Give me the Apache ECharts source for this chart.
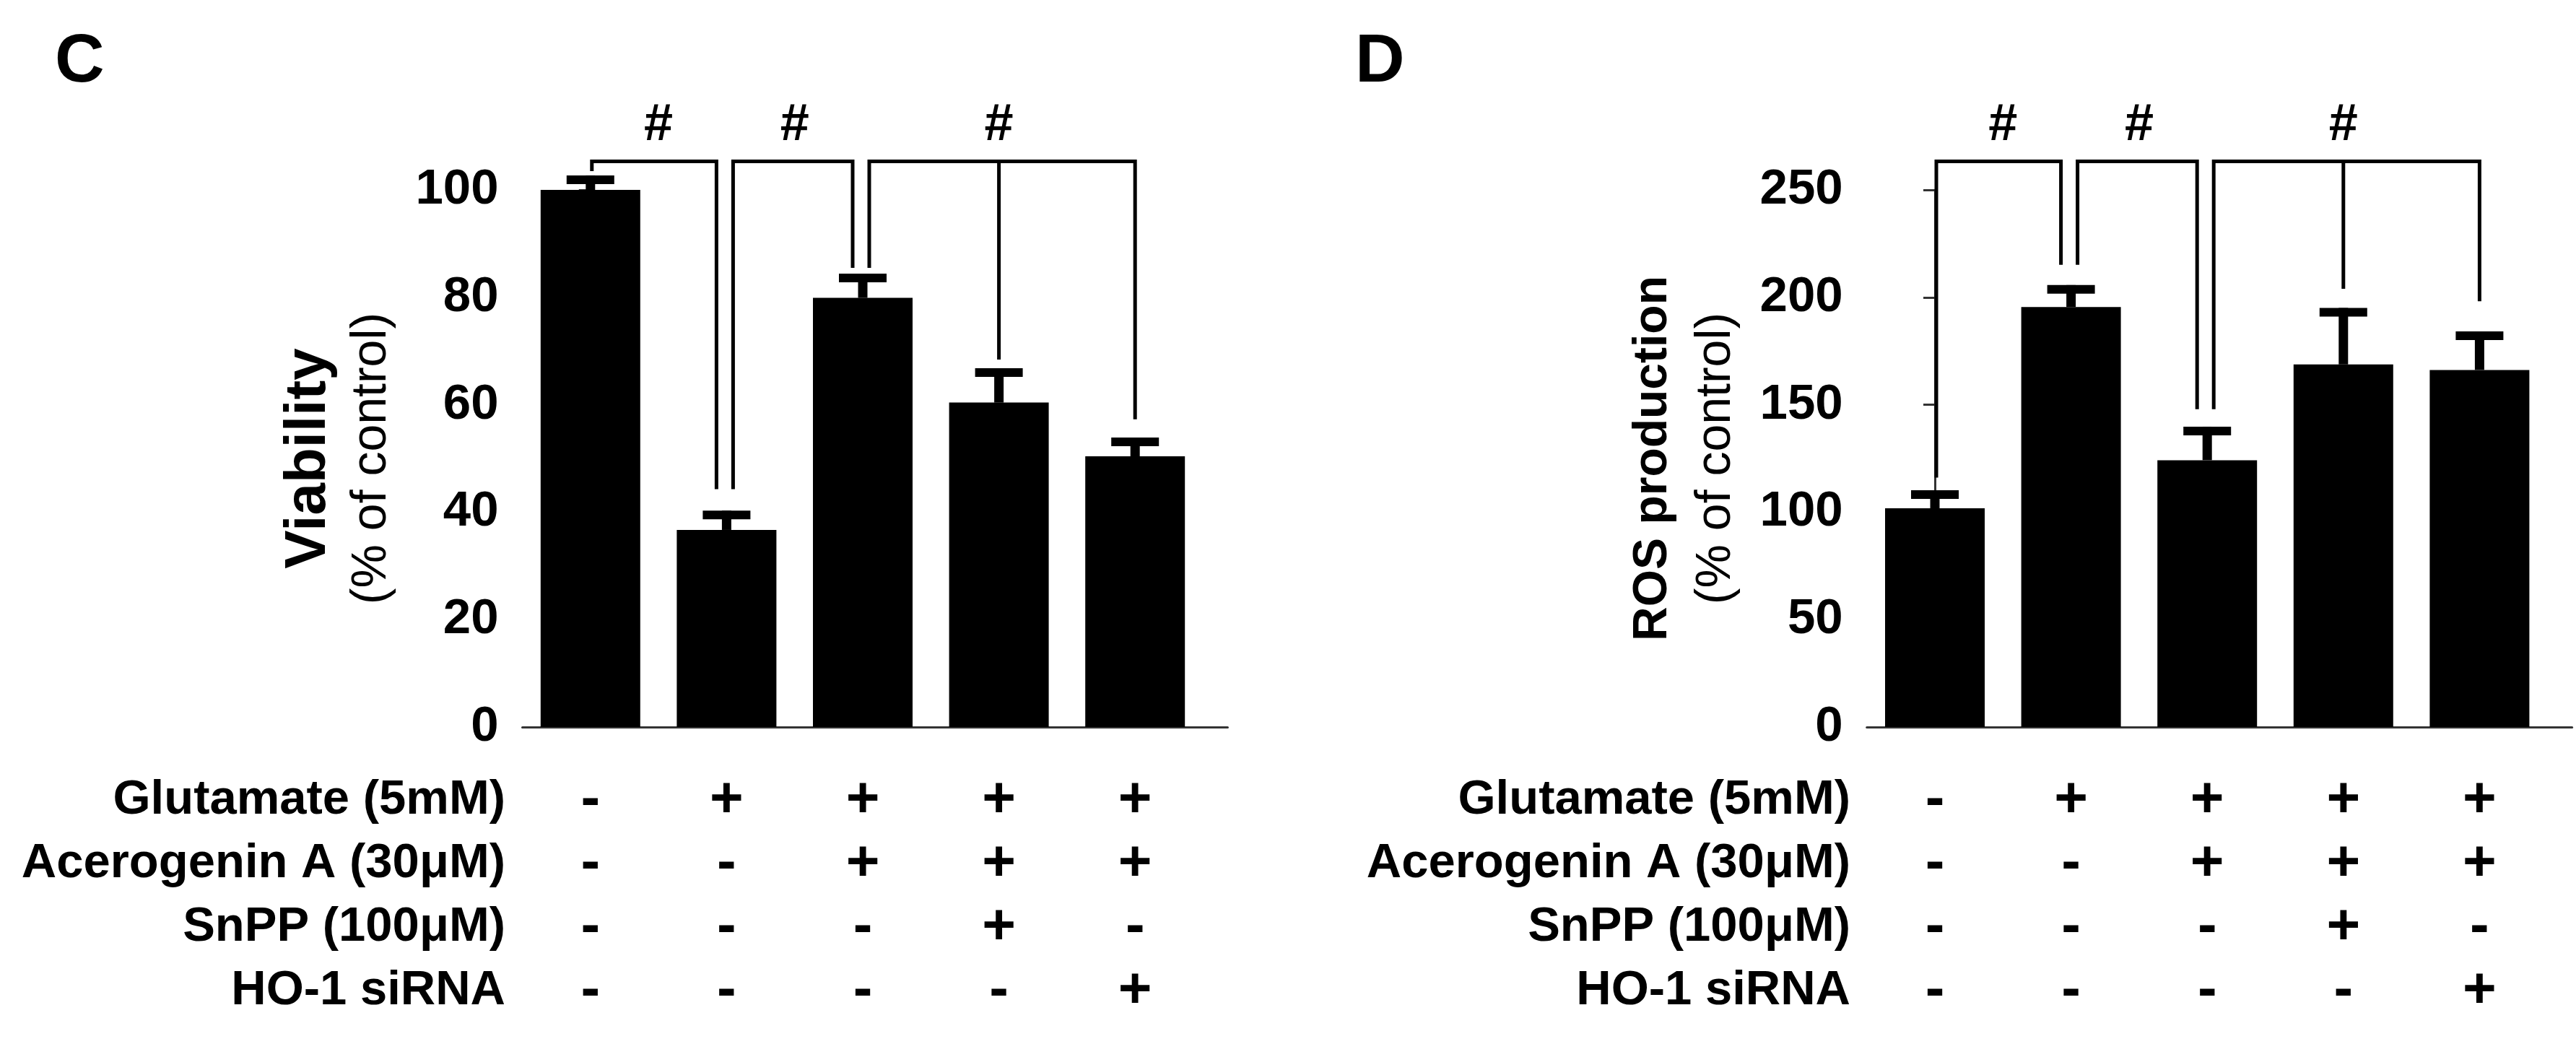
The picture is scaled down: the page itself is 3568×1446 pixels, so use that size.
<!DOCTYPE html>
<html>
<head>
<meta charset="utf-8">
<script src="https://cdn.jsdelivr.net/npm/echarts@6/dist/echarts.min.js"></script>
<style>
  html, body { margin: 0; padding: 0; background: #fff; }
  #chart { width: 3568px; height: 1446px; }
</style>
</head>
<body>
<div id="chart"></div>
<script>
// groups and the treatment table under the bars
var groups = ['Control', 'Glu', 'Glu+AceA', 'Glu+AceA+SnPP', 'Glu+AceA+siRNA'];
var rowNames = ['Glutamate (5mM)', 'Acerogenin A (30μM)', 'SnPP (100μM)', 'HO-1 siRNA'];
var glutamate = ['-', '+', '+', '+', '+'];
var acerogenin = ['-', '-', '+', '+', '+'];
var snpp = ['-', '-', '-', '+', '-'];
var hoSirna = ['-', '-', '-', '-', '+'];

// panel C: viability
var viability = [100, 36.7, 79.9, 60.4, 50.4];
var viabilityErr = [2.7, 3.6, 4.5, 6.4, 3.5];
var viabilityTicks = [0, 100, 20];   // min, max, step
// panel D: ROS production
var ros = [101.8, 195.5, 124.2, 168.8, 166.2];
var rosErr = [8.4, 10.2, 15.6, 26.3, 17.9];
var rosTicks = [0, 250, 50];

// significance brackets: legs as [group, value where the leg stops]
var viabilitySig = [
  [[0, 103.5], [1, 44.3]],
  [[1, 44.3], [2, 85.5]],
  [[2, 85.5], [3, 68.4], [4, 57.3]]
];
var viabilitySigTop = 105.3;
var viabilityHashY = 112;
var rosSig = [
  [[0, 116.1], [1, 215.1]],
  [[1, 215.1], [2, 147.9]],
  [[2, 147.9], [3, 204], [4, 198.2]]
];
var rosSigTop = 263.3;
var rosHashY = 280;
var hashAt = [0.5, 1.5, 3];

var FONT = '"Liberation Sans", Arial, sans-serif';
var myChart = echarts.init(document.getElementById('chart'));

var gridTop = 263, gridH = 744, bandW = 188.6;
var xMin = -0.5, xMax = 4.68;   // axis line runs a little past the last bar
var rowTop = 1109, rowStep = 88;
var groupIdx = groups.map(function (g, i) { return i; });

function signLabel(value) {
  var idx = Math.round(value);
  return [glutamate[idx], acerogenin[idx], snpp[idx], hoSirna[idx]]
    .map(function (s) { return '{s|' + s + '}'; }).join('\n');
}

function errRender(params, api) {
  var x = api.value(0);
  var base = api.coord([x, api.value(1)]);
  var top = api.coord([x, api.value(2)]);
  return {
    type: 'group',
    children: [
      { type: 'rect', shape: { x: base[0] - 6.5, y: top[1], width: 13, height: base[1] - top[1] }, style: { fill: '#000' } },
      { type: 'rect', shape: { x: base[0] - 33, y: top[1], width: 66, height: 12 }, style: { fill: '#000' } }
    ]
  };
}

function sigRender(brackets, topVal, hashVal) {
  var starts = brackets.map(function (b) { return b[0][0]; });
  var ends = brackets.map(function (b) { return b[b.length - 1][0]; });
  return function (params, api) {
    var legs = brackets[params.dataIndex];
    var yTop = api.coord([0, topVal])[1];
    var pts = legs.map(function (leg, k) {
      var p = api.coord([leg[0], leg[1]]);
      var off = 0;
      if (k === 0) off = ends.indexOf(leg[0]) >= 0 ? 9 : 2;
      if (k === legs.length - 1 && starts.indexOf(leg[0]) >= 0) off = -14;
      return [p[0] + off, p[1]];
    });
    var last = pts[pts.length - 1];
    var lineStyle = { stroke: '#000', lineWidth: 5, fill: null, lineJoin: 'miter' };
    var children = [{
      type: 'polyline',
      shape: { points: [pts[0], [pts[0][0], yTop], [last[0], yTop], last] },
      style: lineStyle
    }];
    for (var k = 1; k < pts.length - 1; k++) {
      children.push({ type: 'line', shape: { x1: pts[k][0], y1: yTop, x2: pts[k][0], y2: pts[k][1] }, style: lineStyle });
    }
    var h = api.coord([hashAt[params.dataIndex], hashVal]);
    children.push({
      type: 'text', x: h[0], y: h[1],
      style: { text: '#', fill: '#000', font: 'bold 72px ' + FONT, align: 'center', verticalAlign: 'middle' }
    });
    return { type: 'group', children: children };
  };
}

function xAxisFor(gi) {
  return {
    type: 'value', gridIndex: gi, min: xMin, max: xMax,
    splitLine: { show: false },
    axisLine: { lineStyle: { color: '#333', width: 3 } },
    axisTick: { show: false },
    axisLabel: {
      customValues: groupIdx, margin: 58, formatter: signLabel,
      rich: { s: { fontSize: 80, fontWeight: 'bold', fontFamily: FONT, color: '#000', lineHeight: rowStep } }
    }
  };
}

function yAxisFor(gi, ticks, title, titleSize) {
  return {
    type: 'value', gridIndex: gi, min: ticks[0], max: ticks[1], interval: ticks[2],
    splitLine: { show: false },
    axisLine: { show: true, lineStyle: { color: '#333', width: 3 } },
    axisTick: { show: true, length: 16, lineStyle: { color: '#333', width: 3 } },
    axisLabel: { margin: 33, fontSize: 69, fontWeight: 'bold', fontFamily: FONT, color: '#000' },
    name: '{a|' + title + '}\n{b|(% of control)}',
    nameLocation: 'middle', nameRotate: 90, nameGap: 164,
    nameTextStyle: {
      rich: {
        a: { fontSize: titleSize, fontWeight: 'bold', fontFamily: FONT, color: '#000', lineHeight: 88, align: 'center' },
        b: { fontSize: 68, fontFamily: FONT, color: '#000', lineHeight: 88, align: 'center' }
      }
    }
  };
}

var graphics = [
  { type: 'text', left: 76, top: 39, style: { text: 'C', font: 'bold 95px ' + FONT, fill: '#000' } },
  { type: 'text', left: 1877, top: 39, style: { text: 'D', font: 'bold 95px ' + FONT, fill: '#000' } }
];
[700, 2563].forEach(function (xr) {
  rowNames.forEach(function (name, i) {
    graphics.push({
      type: 'text', x: xr, y: rowTop + i * rowStep,
      style: { text: name, font: 'bold 67px ' + FONT, fill: '#000', align: 'right', verticalAlign: 'middle' }
    });
  });
});

function barData(vals) {
  return vals.map(function (v, i) { return [i, v]; });
}

var option = {
  animation: false,
  backgroundColor: '#fff',
  grid: [
    { left: 723.5, top: gridTop, width: bandW * (xMax - xMin), height: gridH },
    { left: 2585.7, top: gridTop, width: bandW * (xMax - xMin), height: gridH }
  ],
  xAxis: [xAxisFor(0), xAxisFor(1)],
  yAxis: [
    yAxisFor(0, viabilityTicks, 'Viability', 80),
    yAxisFor(1, rosTicks, 'ROS production', 66)
  ],
  graphic: graphics,
  series: [
    { type: 'bar', xAxisIndex: 0, yAxisIndex: 0, data: barData(viability), barWidth: 138, itemStyle: { color: '#000' }, silent: true },
    { type: 'bar', xAxisIndex: 1, yAxisIndex: 1, data: barData(ros), barWidth: 138, itemStyle: { color: '#000' }, silent: true },
    {
      type: 'custom', xAxisIndex: 0, yAxisIndex: 0, renderItem: errRender, clip: false, silent: true,
      data: viability.map(function (v, i) { return [i, v, v + viabilityErr[i]]; })
    },
    {
      type: 'custom', xAxisIndex: 1, yAxisIndex: 1, renderItem: errRender, clip: false, silent: true,
      data: ros.map(function (v, i) { return [i, v, v + rosErr[i]]; })
    },
    {
      type: 'custom', xAxisIndex: 0, yAxisIndex: 0, clip: false, silent: true,
      renderItem: sigRender(viabilitySig, viabilitySigTop, viabilityHashY),
      data: viabilitySig.map(function (b) { return [b[0][0], viabilitySigTop]; })
    },
    {
      type: 'custom', xAxisIndex: 1, yAxisIndex: 1, clip: false, silent: true,
      renderItem: sigRender(rosSig, rosSigTop, rosHashY),
      data: rosSig.map(function (b) { return [b[0][0], rosSigTop]; })
    }
  ]
};

myChart.setOption(option);
</script>
</body>
</html>
